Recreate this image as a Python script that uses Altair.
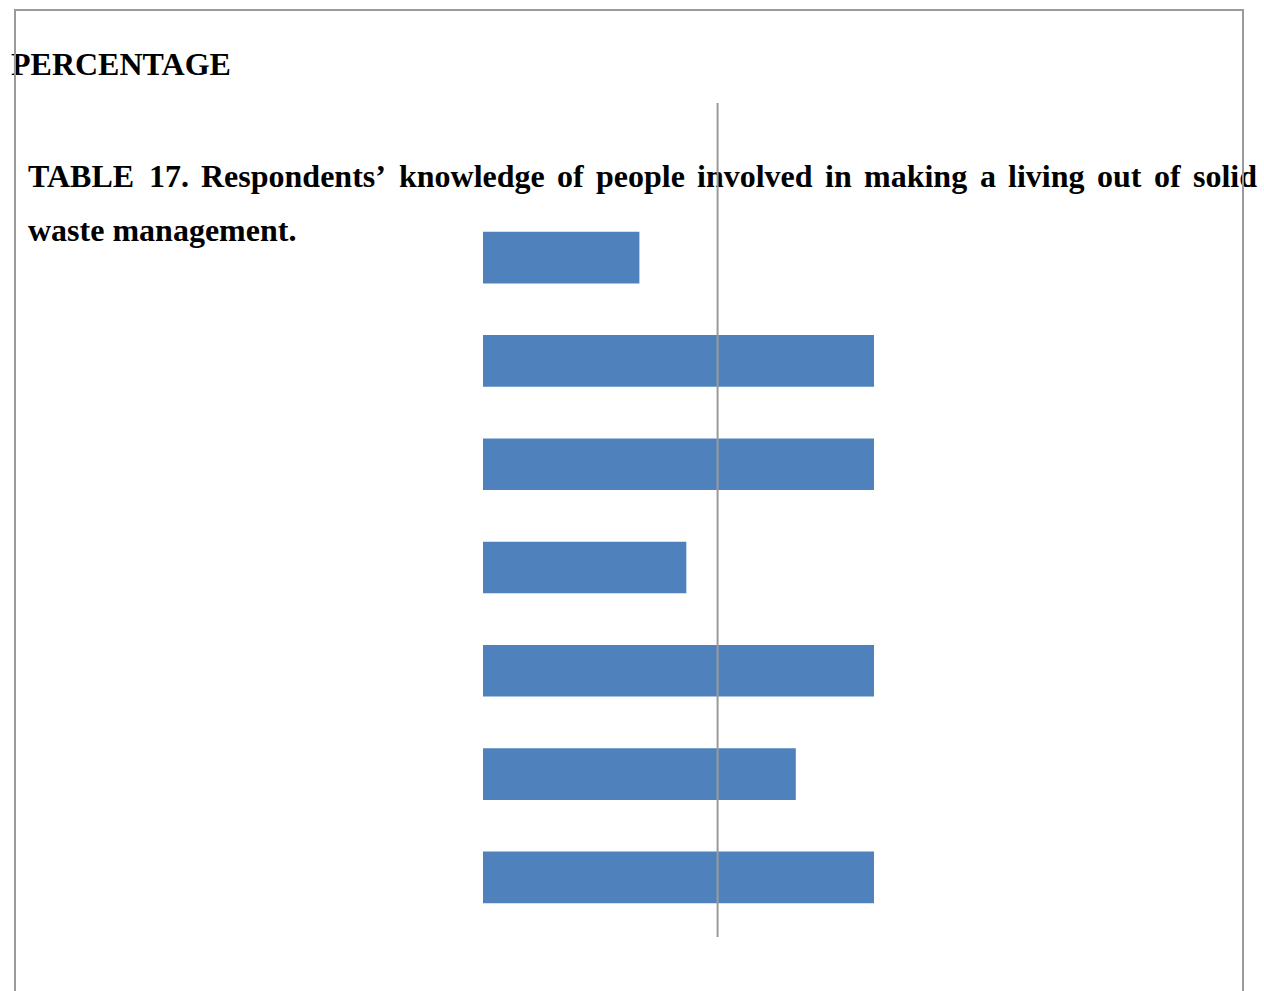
import altair as alt
import pandas as pd

# ---- data ----
categories = ["Item 1", "Item 2", "Item 3", "Item 4", "Item 5", "Item 6", "Item 7"]
values = [20, 50, 50, 26, 50, 40, 50]
reference_value = 30

heading = "PERCENTAGE"
title_line1 = ["TABLE", "17.", "Respondents’", "knowledge", "of", "people", "involved",
               "in", "making", "a", "living", "out", "of", "solid"]
title_line2 = "waste management."

# ---- layout (pixel positions of the justified title words) ----
line1_x = [28, 149, 201, 399, 557, 596, 697, 825, 864, 980, 1008, 1097, 1154, 1193]

bars_df = pd.DataFrame({"category": categories, "value": values})
words_df = pd.DataFrame({"word": title_line1, "x": line1_x, "y": [187] * len(title_line1)})

x_scale = alt.Scale(domain=[0, 50], range=[483, 874])
y_scale = alt.Scale(range=[206, 929], paddingInner=0.5, paddingOuter=0.25)

FONT = "Liberation Serif"

bars = alt.Chart(bars_df).mark_bar(color="#4F81BD").encode(
    x=alt.X("value:Q", scale=x_scale, axis=None),
    y=alt.Y("category:N", scale=y_scale, axis=None, sort=None),
)

rule = alt.Chart(pd.DataFrame({"v": [reference_value]})).mark_rule(
    color="#9a9a9a", strokeWidth=2
).encode(
    x=alt.X("v:Q", scale=x_scale, axis=None),
    y=alt.value(103),
    y2=alt.value(937),
)

heading_text = alt.Chart(pd.DataFrame({"t": [heading]})).mark_text(
    font=FONT, fontSize=32, fontWeight="bold", align="left", baseline="alphabetic", color="black"
).encode(text="t:N", x=alt.value(11), y=alt.value(75))

words_text = alt.Chart(words_df).mark_text(
    font=FONT, fontSize=32, fontWeight="bold", align="left", baseline="alphabetic", color="black"
).encode(
    text="word:N",
    x=alt.X("x:Q", scale=None, axis=None),
    y=alt.Y("y:Q", scale=None, axis=None),
)

line2_text = alt.Chart(pd.DataFrame({"t": [title_line2]})).mark_text(
    font=FONT, fontSize=32, fontWeight="bold", align="left", baseline="alphabetic", color="black"
).encode(text="t:N", x=alt.value(28), y=alt.value(241))

border = alt.Chart(pd.DataFrame({"a": [0]})).mark_rect(
    fill=None, fillOpacity=0, stroke="#9a9a9a", strokeWidth=2
).encode(
    x=alt.value(15), x2=alt.value(1243), y=alt.value(10), y2=alt.value(1010)
)

chart = alt.layer(
    heading_text, words_text, line2_text, bars, rule, border
).resolve_scale(x="independent", y="independent").properties(
    width=1264, height=991, padding=0, autosize=alt.AutoSizeParams(type="none")
).configure_view(stroke=None)

chart.save("out.html", embed_options={"renderer": "svg", "actions": False})
